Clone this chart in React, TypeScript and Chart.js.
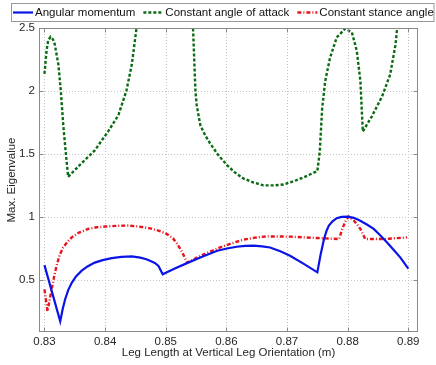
import React, { useEffect, useRef } from 'react';
import { Chart, registerables } from 'chart.js';

Chart.register(...registerables);

// ---- Data ----
const amX = [0.83, 0.8326, 0.833, 0.8334, 0.8339, 0.8345, 0.8352, 0.8361, 0.8371, 0.8383, 0.8396, 0.8411, 0.8427, 0.8444, 0.8458, 0.8468, 0.8474, 0.8482, 0.8488, 0.8495, 0.8515, 0.8535, 0.856, 0.8585, 0.8601, 0.8617, 0.8631, 0.8645, 0.8659, 0.8672, 0.8689, 0.8705, 0.8727, 0.875, 0.8755, 0.8761, 0.8765, 0.8769, 0.8775, 0.8782, 0.879, 0.88, 0.881, 0.882, 0.8831, 0.8843, 0.8854, 0.8865, 0.8876, 0.8887, 0.89];
const amY = [0.62, 0.175, 0.27, 0.348, 0.42, 0.48, 0.53, 0.574, 0.61, 0.64, 0.66, 0.676, 0.686, 0.689, 0.68, 0.667, 0.654, 0.638, 0.614, 0.548, 0.593, 0.636, 0.686, 0.734, 0.752, 0.766, 0.772, 0.774, 0.769, 0.76, 0.73, 0.694, 0.632, 0.563, 0.694, 0.827, 0.89, 0.934, 0.967, 0.992, 1.003, 1.005, 0.995, 0.974, 0.944, 0.907, 0.855, 0.8, 0.74, 0.68, 0.593];

const aoaX = [0.83, 0.83035, 0.8306, 0.831, 0.8314, 0.8317, 0.8323, 0.8327, 0.8331, 0.8335, 0.8339, 0.8361, 0.8383, 0.8405, 0.8422, 0.8435, 0.8444, 0.8452, 0.8458, 0.8539, 0.8545, 0.8549, 0.8551, 0.8557, 0.8565, 0.8573, 0.8587, 0.8601, 0.8614, 0.8628, 0.8645, 0.8661, 0.8678, 0.8694, 0.8711, 0.8727, 0.875, 0.8754, 0.8758, 0.8763, 0.8771, 0.8782, 0.8796, 0.8807, 0.8815, 0.8821, 0.8825, 0.884, 0.8857, 0.887, 0.8879, 0.8882, 0.8888];
const aoaY = [2.137, 2.32, 2.4, 2.43, 2.41, 2.37, 2.21, 2.0, 1.73, 1.52, 1.32, 1.427, 1.53, 1.68, 1.81, 2.0, 2.21, 2.505, 2.9, 2.9, 2.5, 2.0, 1.89, 1.73, 1.65, 1.586, 1.49, 1.413, 1.355, 1.307, 1.275, 1.253, 1.252, 1.259, 1.285, 1.315, 1.365, 1.52, 1.866, 2.08, 2.265, 2.425, 2.495, 2.465, 2.32, 2.08, 1.68, 1.8, 1.96, 2.13, 2.37, 2.52, 2.9];

const stanceX = [0.83, 0.8305, 0.8308, 0.8312, 0.8316, 0.832, 0.8325, 0.8331, 0.8338, 0.8345, 0.8357, 0.8372, 0.8386, 0.84, 0.842, 0.8438, 0.8456, 0.8474, 0.8489, 0.8502, 0.8512, 0.8519, 0.8525, 0.853, 0.8535, 0.856, 0.8585, 0.8607, 0.8628, 0.8647, 0.8667, 0.8705, 0.8749, 0.8786, 0.8791, 0.8797, 0.8802, 0.881, 0.8816, 0.8821, 0.8829, 0.8859, 0.8898];
const stanceY = [0.428, 0.255, 0.33, 0.43, 0.53, 0.614, 0.7, 0.76, 0.805, 0.84, 0.878, 0.907, 0.92, 0.926, 0.932, 0.934, 0.926, 0.912, 0.892, 0.867, 0.832, 0.788, 0.74, 0.694, 0.64, 0.7, 0.752, 0.79, 0.822, 0.838, 0.848, 0.846, 0.835, 0.827, 0.907, 0.974, 1.005, 0.974, 0.94, 0.907, 0.827, 0.827, 0.84];

const seriesLabels = ['Angular momentum', 'Constant angle of attack', 'Constant stance angle'];
const xTicks = [0.83, 0.84, 0.85, 0.86, 0.87, 0.88, 0.89];
const yTicks = [0.5, 1, 1.5, 2, 2.5];
const xTitle = 'Leg Length at Vertical Leg Orientation (m)';
const yTitle = 'Max. Eigenvalue';

const FONT_FAMILY = '"Liberation Sans", Arial, Helvetica, sans-serif';
const FONT_SIZE = 11.5;

const zip = (xs: number[], ys: number[]) => xs.map((x, i) => ({ x, y: ys[i] }));
const fmt = (v: number) => String(Number(v.toFixed(3)));

const framePlugin = {
  id: 'matlabFrame',
  beforeDatasetsDraw(chart: any) {
    const { ctx, chartArea: a, scales } = chart;
    ctx.save();
    ctx.strokeStyle = '#c4c4c4';
    ctx.lineWidth = 1;
    ctx.setLineDash([1, 2]);
    ctx.beginPath();
    xTicks.forEach((v) => {
      const px = Math.round(scales.x.getPixelForValue(v)) + 0.5;
      ctx.moveTo(px, a.top);
      ctx.lineTo(px, a.bottom);
    });
    yTicks.forEach((v) => {
      const py = Math.round(scales.y.getPixelForValue(v)) + 0.5;
      ctx.moveTo(a.left, py);
      ctx.lineTo(a.right, py);
    });
    ctx.stroke();
    ctx.restore();
  },
  afterDatasetsDraw(chart: any) {
    const { ctx, chartArea: a, scales } = chart;
    ctx.save();
    ctx.setLineDash([]);
    ctx.strokeStyle = '#8a8a8a';
    ctx.lineWidth = 1;
    const L = Math.round(a.left) + 0.5;
    const R = Math.round(a.right) - 0.5;
    const T = Math.round(a.top) + 0.5;
    const B = Math.round(a.bottom) - 0.5;
    ctx.strokeRect(L, T, R - L, B - T);
    ctx.beginPath();
    const tl = 4;
    xTicks.forEach((v) => {
      const px = Math.round(scales.x.getPixelForValue(v)) + 0.5;
      ctx.moveTo(px, B); ctx.lineTo(px, B - tl);
      ctx.moveTo(px, T); ctx.lineTo(px, T + tl);
    });
    yTicks.forEach((v) => {
      const py = Math.round(scales.y.getPixelForValue(v)) + 0.5;
      ctx.moveTo(L, py); ctx.lineTo(L + tl, py);
      ctx.moveTo(R, py); ctx.lineTo(R - tl, py);
    });
    ctx.stroke();
    ctx.restore();
  },
  afterDraw(chart: any) {
    const { ctx } = chart;
    const datasets = chart.data.datasets;
    ctx.save();
    ctx.font = `${FONT_SIZE}px ${FONT_FAMILY}`;
    ctx.textBaseline = 'middle';
    const lineLen = 20;
    const gapText = 2;
    const gapItem = 8;
    const startX = 13;
    const cy = 12.5;
    let x = startX;
    const items: any[] = [];
    datasets.forEach((ds: any) => {
      const w = ctx.measureText(ds.label).width;
      items.push({ ds, x, w });
      x += lineLen + gapText + w + gapItem;
    });
    const boxRight = Math.min(x - gapItem + 2, 434);
    ctx.fillStyle = '#ffffff';
    ctx.fillRect(12, 3, boxRight - 12, 19);
    ctx.strokeStyle = '#9a9a9a';
    ctx.lineWidth = 1;
    ctx.setLineDash([]);
    ctx.strokeRect(11.5, 3.5, boxRight - 11.5, 18);
    items.forEach(({ ds, x: ix }) => {
      ctx.strokeStyle = ds.borderColor;
      ctx.lineWidth = ds.borderWidth;
      ctx.setLineDash(ds.borderDash || []);
      ctx.beginPath();
      ctx.moveTo(ix, cy);
      ctx.lineTo(ix + lineLen, cy);
      ctx.stroke();
      ctx.fillStyle = '#111111';
      ctx.fillText(ds.label, ix + lineLen + gapText, cy + 0.5);
    });
    ctx.restore();
  },
};

export default function App() {
  const canvasRef = useRef<HTMLCanvasElement | null>(null);

  useEffect(() => {
    const canvas = canvasRef.current;
    if (!canvas) return;
    const font = { family: FONT_FAMILY, size: FONT_SIZE };
    const chart = new Chart(canvas, {
      type: 'line',
      data: {
        datasets: [
          {
            label: seriesLabels[0],
            data: zip(amX, amY),
            borderColor: '#0a14e6',
            borderWidth: 2.2,
            pointRadius: 0,
            tension: 0,
            fill: false,
          },
          {
            label: seriesLabels[1],
            data: zip(aoaX, aoaY),
            borderColor: '#0b6b12',
            borderWidth: 2.4,
            borderDash: [3, 2],
            pointRadius: 0,
            tension: 0,
            fill: false,
          },
          {
            label: seriesLabels[2],
            data: zip(stanceX, stanceY),
            borderColor: '#e8141c',
            borderWidth: 2.4,
            borderDash: [4, 2, 1, 2],
            pointRadius: 0,
            tension: 0,
            fill: false,
          },
        ],
      },
      options: {
        responsive: false,
        animation: false,
        devicePixelRatio: 1,
        parsing: false as any,
        layout: { padding: { top: 28, right: 18, left: 0, bottom: 0 } },
        plugins: {
          legend: { display: false },
          tooltip: { enabled: false },
        },
        scales: {
          x: {
            type: 'linear',
            min: 0.8291,
            max: 0.8916,
            afterBuildTicks: (s: any) => {
              s.ticks = xTicks.map((value) => ({ value }));
            },
            afterFit: (s: any) => {
              s.height = 33;
            },
            grid: { display: false, drawTicks: false },
            border: { display: false },
            ticks: {
              font,
              color: '#262626',
              padding: 3,
              maxRotation: 0,
              autoSkip: false,
              callback: (v: any) => fmt(Number(v)),
            },
            title: {
              display: true,
              text: xTitle,
              font,
              color: '#262626',
              padding: { top: 0, bottom: 5 },
            },
          },
          y: {
            type: 'linear',
            min: 0.09,
            max: 2.5,
            afterBuildTicks: (s: any) => {
              s.ticks = yTicks.map((value) => ({ value }));
            },
            afterFit: (s: any) => {
              s.width = 39;
            },
            grid: { display: false, drawTicks: false },
            border: { display: false },
            ticks: {
              font,
              color: '#262626',
              padding: 4,
              autoSkip: false,
              callback: (v: any) => fmt(Number(v)),
            },
            title: {
              display: true,
              text: yTitle,
              font,
              color: '#262626',
              padding: { top: 5, bottom: 0 },
            },
          },
        },
      },
      plugins: [framePlugin],
    });
    return () => chart.destroy();
  }, []);

  return (
    <div style={{ position: 'fixed', left: 0, top: 0, width: 436, height: 365, background: '#ffffff' }}>
      <canvas ref={canvasRef} width={436} height={365} style={{ display: 'block' }} />
    </div>
  );
}
